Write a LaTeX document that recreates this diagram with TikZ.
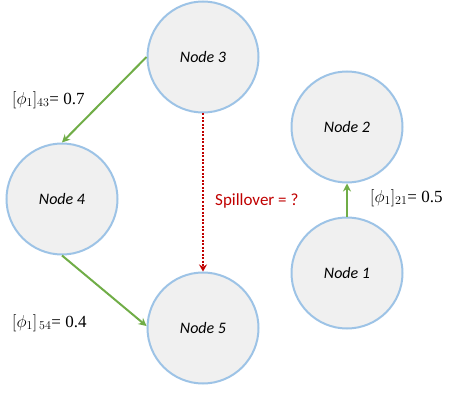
\documentclass[tikz,border=0pt]{standalone}
\usepackage{fontspec}
\setmainfont{Carlito}
\newfontfamily\labfont{Liberation Serif}
\usetikzlibrary{arrows.meta}
\definecolor{nodefill}{HTML}{F0F0F0}
\definecolor{nodeedge}{HTML}{9DC3E6}
\definecolor{edgegreen}{HTML}{70AD47}
\definecolor{spillred}{HTML}{C00000}
\begin{document}
\begin{tikzpicture}[x=1pt,y=-1pt,
  nodecirc/.style={circle,draw=nodeedge,fill=nodefill,line width=2pt,minimum size=111pt,inner sep=0pt,font=\fontsize{16}{18}\selectfont\itshape},
  garrow/.style={draw=edgegreen,line width=2pt,-{Stealth[length=8pt,width=8pt]}},
  rarrow/.style={draw=spillred,line width=2pt,dash pattern=on 2pt off 1.5pt,-{Stealth[length=7pt,width=8pt]}},
  lab/.style={font=\fontsize{17}{19}\selectfont,anchor=west,inner sep=0pt}]
\useasboundingbox (0,0) rectangle (456,396);
\node[nodecirc] (n3) at (203,57) {Node 3};
\node[nodecirc] (n4) at (62,199) {Node 4};
\node[nodecirc] (n5) at (203,328) {Node 5};
\node[nodecirc] (n2) at (347,127) {Node 2};
\node[nodecirc] (n1) at (347,273) {Node 1};
\draw[garrow] (n3.180) -- (n4.90);
\draw[garrow] (n4.270) -- (n5.178);
\draw[garrow] (n1.90) -- (n2.270);
\draw[rarrow] (n3.270) -- (n5.90);
\node[lab] (l43) at (12,100) {$[\phi_1]_{43}${\labfont= 0.7}};
\node[lab] (l54) at (12,323) {$[\phi_1]_{\,54}${\labfont= 0.4}};
\node[lab] (l21) at (370,198) {$[\phi_1]_{21}${\labfont= 0.5}};
\node[lab,text=spillred] (sp) at (215,201) {Spillover = ?};
\end{tikzpicture}
\end{document}
